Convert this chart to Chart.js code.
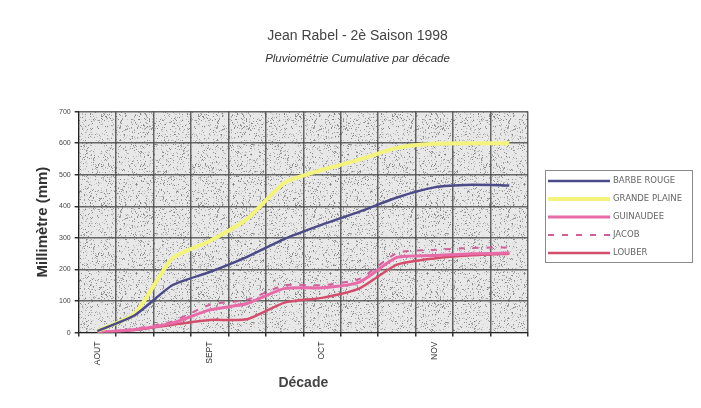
<!DOCTYPE html>
<html>
<head>
<meta charset="utf-8">
<script src="https://cdn.jsdelivr.net/npm/chart.js@4.4.1/dist/chart.umd.min.js"></script>
<style>
    html, body { margin: 0; padding: 0; background: #fff; }
    #wrap { width: 701px; height: 408px; }
</style>
</head>
<body>
<div id="wrap"><canvas id="rainChart" width="701" height="408"></canvas></div>
<script>
// Jean Rabel - 2e saison 1998, cumulative rainfall per decade (mm)

const decades = ['AOUT 1', 'AOUT 2', 'AOUT 3', 'SEPT 1', 'SEPT 2', 'SEPT 3',
                 'OCT 1', 'OCT 2', 'OCT 3', 'NOV 1', 'NOV 2', 'NOV 3'];
const tickLabels = ['AOUT', '', '', 'SEPT', '', '', 'OCT', '', '', 'NOV', '', ''];
const yTicks = [0, 100, 200, 300, 400, 500, 600, 700];

const barbeRouge = [5, 55, 150, 192, 240, 297, 342, 383, 428, 460, 468, 466];
const grandePlaine = [5, 60, 235, 290, 360, 475, 515, 548, 585, 598, 600, 600];
const guinaudee = [0, 10, 30, 72, 92, 140, 142, 160, 238, 244, 250, 252];
const jacob = [0, 12, 35, 88, 104, 150, 150, 170, 252, 262, 268, 270];
const louber = [0, 8, 25, 40, 42, 95, 110, 140, 215, 235, 245, 250];

const FONT = 'Arial, "Liberation Sans", sans-serif';
const gridColor = 'rgba(70, 70, 70, 0.8)';

// speckled grey plot background (like the old Excel pattern fill)
let speckle = null;
function makeSpeckle(ctx) {
    const c = document.createElement('canvas');
    c.width = 97;
    c.height = 89;
    const g = c.getContext('2d');
    g.fillStyle = '#e8e8e8';
    g.fillRect(0, 0, c.width, c.height);
    let seed = 12345;
    const next = () => (seed = (seed * 16807) % 2147483647) / 2147483647;
    for (let i = 0; i < 1700; i++) {
        const v = 125 + Math.floor(next() * 100);
        g.fillStyle = `rgb(${v},${v},${v})`;
        g.fillRect(Math.floor(next() * c.width), Math.floor(next() * c.height), 1, 1);
    }
    return ctx.createPattern(c, 'repeat');
}

const plotBackground = {
    id: 'plotBackground',
    beforeDraw(chart) {
        const { ctx, chartArea: a } = chart;
        if (!speckle) speckle = makeSpeckle(ctx);
        ctx.save();
        ctx.fillStyle = speckle;
        ctx.fillRect(a.left, a.top, a.right - a.left, a.bottom - a.top);
        ctx.restore();
    }
};

// month labels read bottom-to-top
const rotatedTicks = {
    id: 'rotatedTicks',
    afterDraw(chart) {
        const { ctx } = chart;
        const x = chart.scales.x;
        ctx.save();
        ctx.fillStyle = '#333';
        ctx.font = '8.5px ' + FONT;
        ctx.textAlign = 'right';
        ctx.textBaseline = 'middle';
        tickLabels.forEach((t, i) => {
            if (!t) return;
            ctx.save();
            ctx.translate(x.getPixelForValue(i), x.top + 9);
            ctx.rotate(-Math.PI / 2);
            ctx.fillText(t, 0, 0);
            ctx.restore();
        });
        ctx.restore();
    }
};

// framed legend to the right of the plot, built from the datasets
const boxLegend = {
    id: 'boxLegend',
    afterDraw(chart) {
        const { ctx, chartArea: a } = chart;
        const sets = chart.data.datasets;
        const left = Math.round(a.right + 17);
        const rowH = 18;
        const height = sets.length * rowH + 2;
        const top = Math.round((a.top + a.bottom) / 2 - height / 2 - 6);
        const width = 147;
        ctx.save();
        ctx.fillStyle = '#fff';
        ctx.fillRect(left, top, width, height);
        ctx.strokeStyle = '#8a8a8a';
        ctx.lineWidth = 1;
        ctx.strokeRect(left + 0.5, top + 0.5, width, height);
        ctx.font = '8.5px "DejaVu Sans", sans-serif';
        ctx.textBaseline = 'middle';
        ctx.fillStyle = '#666';
        sets.forEach((ds, i) => {
            const y = top + 11 + i * rowH;
            ctx.save();
            ctx.strokeStyle = ds.borderColor;
            ctx.lineWidth = ds.borderWidth;
            ctx.setLineDash(ds.borderDash || []);
            ctx.beginPath();
            ctx.moveTo(left + 3, y);
            ctx.lineTo(left + 65, y);
            ctx.stroke();
            ctx.restore();
            ctx.fillText(ds.label, left + 68, y);
        });
        ctx.restore();
    }
};

const ctx = document.getElementById('rainChart').getContext('2d');

new Chart(ctx, {
    type: 'line',
    data: {
        labels: decades,
        datasets: [
            { label: 'BARBE ROUGE', data: barbeRouge, borderColor: '#4b4b8a', borderWidth: 2.5 },
            { label: 'GRANDE PLAINE', data: grandePlaine, borderColor: '#f3f37e', borderWidth: 4 },
            { label: 'GUINAUDEE', data: guinaudee, borderColor: '#e86aa8', borderWidth: 3 },
            { label: 'JACOB', data: jacob, borderColor: '#cf5f9c', borderWidth: 2, borderDash: [6, 8] },
            { label: 'LOUBER', data: louber, borderColor: '#d44e6c', borderWidth: 2.5 }
        ].map(ds => Object.assign(ds, {
            backgroundColor: ds.borderColor,
            fill: false,
            pointRadius: 0,
            tension: 0.2
        }))
    },
    options: {
        responsive: false,
        animation: false,
        layout: { padding: { left: 28, right: 14, top: 0, bottom: 12 } },
        plugins: {
            title: {
                display: true,
                text: 'Jean Rabel - 2è Saison 1998',
                color: '#444',
                font: { family: FONT, size: 14, weight: 'normal' },
                padding: { top: 28, bottom: 2 }
            },
            subtitle: {
                display: true,
                text: 'Pluviométrie Cumulative par décade',
                color: '#333',
                font: { family: FONT, size: 11.5, style: 'italic' },
                padding: { top: 5, bottom: 46 }
            },
            legend: { display: false },
            tooltip: { enabled: false }
        },
        scales: {
            x: {
                offset: true,
                grid: { offset: true, color: gridColor, lineWidth: 1.5, tickLength: 4, tickColor: '#333' },
                border: { color: '#222', width: 1 },
                ticks: {
                    autoSkip: false,
                    minRotation: 90,
                    maxRotation: 90,
                    padding: 5,
                    color: 'rgba(0,0,0,0)',
                    font: { family: FONT, size: 8.5 },
                    callback: (v, i) => tickLabels[i]
                },
                title: {
                    display: true,
                    text: 'Décade',
                    color: '#444',
                    font: { family: FONT, size: 14, weight: 'bold' },
                    padding: { top: 5, bottom: 4 }
                }
            },
            y: {
                min: yTicks[0],
                max: yTicks[yTicks.length - 1],
                afterBuildTicks: s => { s.ticks = yTicks.map(v => ({ value: v })); },
                grid: { color: gridColor, lineWidth: 1.5, tickLength: 4, tickColor: '#333' },
                border: { color: '#222', width: 1 },
                ticks: { color: '#444', font: { family: FONT, size: 7 }, padding: 4 },
                title: {
                    display: true,
                    text: 'Millimètre (mm)',
                    color: '#333',
                    font: { family: FONT, size: 15, weight: 'bold' },
                    padding: { top: 6, bottom: 3 }
                }
            },
            // empty right-hand axis: keeps room for the framed legend
            legendRoom: {
                type: 'linear',
                position: 'right',
                display: true,
                grid: { display: false },
                ticks: { display: false },
                border: { display: false },
                afterFit: s => { s.width = 159; }
            }
        }
    },
    plugins: [plotBackground, rotatedTicks, boxLegend]
});
</script>
</body>
</html>
